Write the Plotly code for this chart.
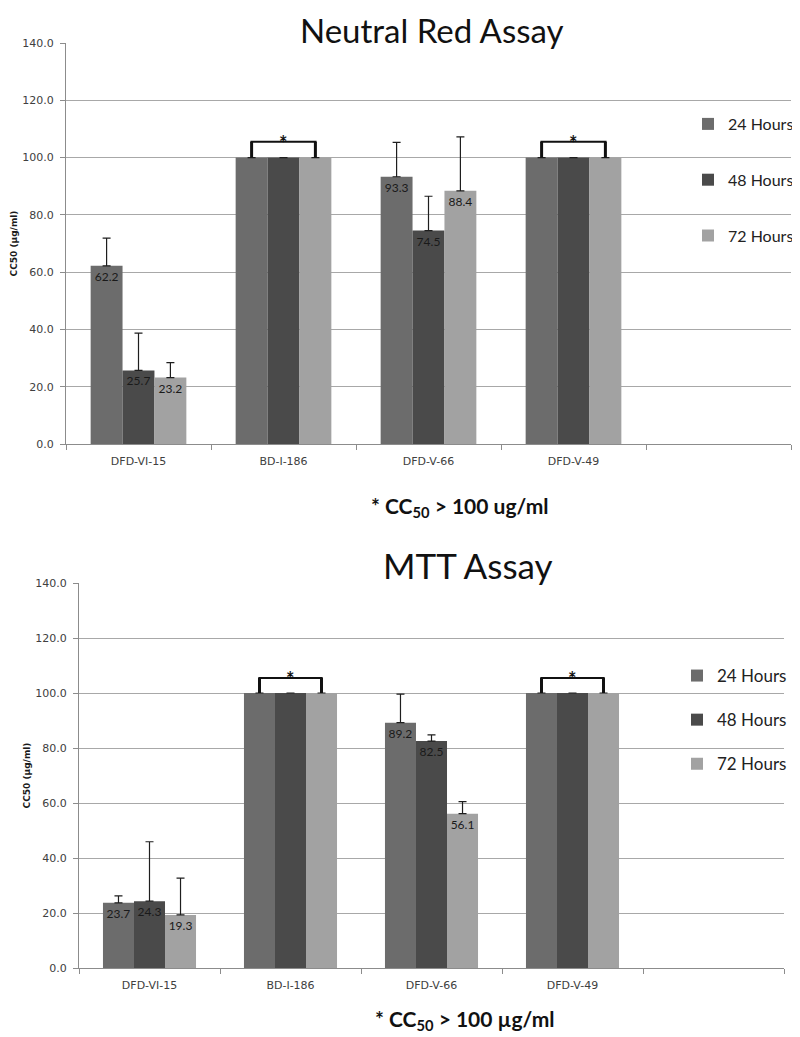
import plotly.graph_objects as go

# page has an 8px body margin; figure size compensates
OFF = 8
FW, FH = 800 - OFF, 1037 - OFF


def fx(px):
    return (px - OFF) / FW


def fy(py):
    return 1 - (py - OFF) / FH


categories = ["DFD-VI-15", "BD-I-186", "DFD-V-66", "DFD-V-49"]
series_names = ["24 Hours", "48 Hours", "72 Hours"]
series_colors = ["#6c6c6c", "#4a4a4a", "#a2a2a2"]

# Neutral Red Assay (CC50, ug/ml) and upper error
nr_24 = [62.2, 100.0, 93.3, 100.0]
nr_48 = [25.7, 100.0, 74.5, 100.0]
nr_72 = [23.2, 100.0, 88.4, 100.0]
nr_err_24 = [9.7, 0.0, 12.0, 0.0]
nr_err_48 = [13.0, 0.0, 12.0, 0.0]
nr_err_72 = [5.2, 0.0, 18.8, 0.0]

# MTT Assay
mtt_24 = [23.7, 100.0, 89.2, 100.0]
mtt_48 = [24.3, 100.0, 82.5, 100.0]
mtt_72 = [19.3, 100.0, 56.1, 100.0]
mtt_err_24 = [2.5, 0.0, 10.4, 0.0]
mtt_err_48 = [21.6, 0.0, 2.3, 0.0]
mtt_err_72 = [13.4, 0.0, 4.4, 0.0]

y_ticks = [0, 20, 40, 60, 80, 100, 120, 140]
threshold = 100.0

BARGAP = 0.34
TICK_FONT = dict(family="DejaVu Sans", size=11, color="#404040")
LABEL_FONT = dict(family="Lato", size=12, color="#1a1a1a")

fig = go.Figure()

panels = [
    dict(vals=[nr_24, nr_48, nr_72], errs=[nr_err_24, nr_err_48, nr_err_72],
         xa="x", ya="y", legend="legend"),
    dict(vals=[mtt_24, mtt_48, mtt_72], errs=[mtt_err_24, mtt_err_48, mtt_err_72],
         xa="x2", ya="y2", legend="legend2"),
]

for p_i, p in enumerate(panels):
    for k, name in enumerate(series_names):
        vals = p["vals"][k]
        fig.add_trace(go.Bar(
            x=categories, y=vals, name=name,
            marker=dict(color=series_colors[k], line=dict(width=0)),
            error_y=dict(type="data", array=p["errs"][k], symmetric=False,
                         arrayminus=[0] * len(vals), color="#1e1e1e",
                         thickness=1.2, width=4),
            text=[f"{v:.1f}" if v < threshold else "" for v in vals],
            textposition="inside", insidetextanchor="end",
            textangle=0, constraintext="none",
            textfont=LABEL_FONT,
            xaxis=p["xa"], yaxis=p["ya"], legend=p["legend"],
            legendgroup=f"{p_i}-{k}",
        ))

    # brackets over groups where every series reaches the threshold
    wbar = (1 - BARGAP) / len(series_names)
    for i, c in enumerate(categories):
        if all(p["vals"][k][i] >= threshold for k in range(len(series_names))):
            x0, x1 = i - wbar, i + wbar
            ytop = threshold + 5.5
            for xx in (x0, x1):
                fig.add_shape(type="line", xref=p["xa"], yref=p["ya"],
                              x0=xx, x1=xx, y0=threshold, y1=ytop,
                              line=dict(color="#111111", width=3))
            fig.add_shape(type="line", xref=p["xa"], yref=p["ya"],
                          x0=x0 - 0.008, x1=x1 + 0.008, y0=ytop, y1=ytop,
                          line=dict(color="#111111", width=2))
            fig.add_annotation(x=i, y=ytop, xref=p["xa"], yref=p["ya"],
                               text="<b>*</b>", showarrow=False, yanchor="middle", yshift=-1,
                               font=dict(family="Lato", size=20, color="#111111"))

xdom_top = [fx(66), fx(791)]
xdom_bot = [fx(79), fx(784)]
ydom_top = [fy(444), fy(43)]
ydom_bot = [fy(968), fy(583)]


def xaxis_cfg(domain, anchor):
    return dict(domain=domain, anchor=anchor, type="category",
                categoryorder="array", categoryarray=categories + [" "],
                range=[-0.5, len(categories) + 0.5],
                tickson="boundaries", ticks="outside", ticklen=5, tickcolor="#8c8c8c",
                ticklabelstandoff=7,
                showline=True, linecolor="#8c8c8c", linewidth=1,
                showgrid=False, zeroline=False, tickfont=TICK_FONT,
                automargin=False, fixedrange=True)


def yaxis_cfg(domain, anchor):
    return dict(domain=domain, anchor=anchor, range=[0, 140],
                tickvals=y_ticks, tickformat=".1f",
                ticks="outside", ticklen=5, tickcolor="#8c8c8c",
                ticklabelstandoff=4,
                showline=True, linecolor="#8c8c8c", linewidth=1,
                showgrid=True, gridcolor="#a8a8a8", gridwidth=1, zeroline=False,
                tickfont=TICK_FONT, automargin=False,
                title=dict(text="<b>CC50 (µg/ml)</b>", standoff=3,
                           font=dict(family="DejaVu Sans", size=9, color="#1a1a1a")))


fig.update_layout(
    width=FW, height=FH,
    margin=dict(l=0, r=0, t=0, b=0),
    paper_bgcolor="white", plot_bgcolor="white",
    template="none",
    barmode="group", bargap=BARGAP, bargroupgap=0,
    xaxis=xaxis_cfg(xdom_top, "y"),
    yaxis=yaxis_cfg(ydom_top, "x"),
    xaxis2=xaxis_cfg(xdom_bot, "y2"),
    yaxis2=yaxis_cfg(ydom_bot, "x2"),
    legend=dict(x=fx(688), y=fy(107), xanchor="left", yanchor="top",
                traceorder="grouped", tracegroupgap=32,
                font=dict(family="Lato", size=16, color="#222222"),
                bgcolor="rgba(0,0,0,0)", borderwidth=0),
    legend2=dict(x=fx(677), y=fy(658), xanchor="left", yanchor="top",
                 traceorder="grouped", tracegroupgap=19,
                 font=dict(family="Lato", size=17, color="#222222"),
                 bgcolor="rgba(0,0,0,0)", borderwidth=0),
    showlegend=True,
)

# titles
fig.add_annotation(x=fx(432), y=fy(30), xref="paper", yref="paper",
                   text="Neutral Red Assay", showarrow=False,
                   xanchor="center", yanchor="middle",
                   font=dict(family="Lato", size=33, color="#111111"))
fig.add_annotation(x=fx(468), y=fy(565), xref="paper", yref="paper",
                   text="MTT Assay", showarrow=False,
                   xanchor="center", yanchor="middle",
                   font=dict(family="Lato", size=35, color="#111111"))

# footnotes
fig.add_annotation(x=fx(459), y=fy(507), xref="paper", yref="paper",
                   text="<b>* CC<sub>50</sub> &gt; 100 ug/ml</b>", showarrow=False,
                   xanchor="center", yanchor="middle",
                   font=dict(family="Lato", size=21, color="#111111"))
fig.add_annotation(x=fx(465), y=fy(1020), xref="paper", yref="paper",
                   text="<b>* CC<sub>50</sub> &gt; 100 µg/ml</b>", showarrow=False,
                   xanchor="center", yanchor="middle",
                   font=dict(family="Lato", size=21, color="#111111"))

fig.write_html("out.html")
